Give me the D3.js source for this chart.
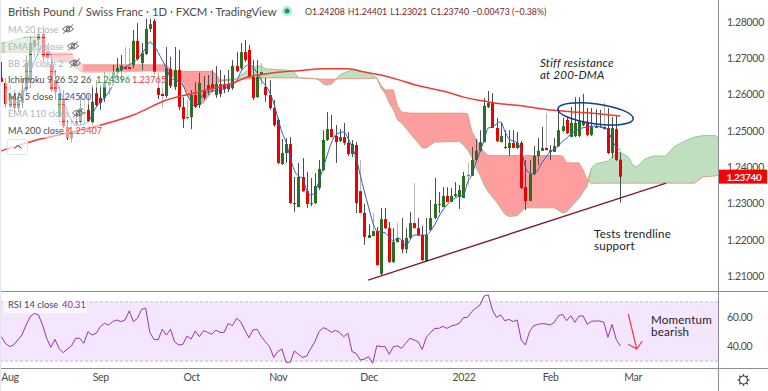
<!DOCTYPE html>
<html>
<head>
<meta charset="utf-8">
<script src="https://cdn.jsdelivr.net/npm/d3@7"></script>
<style>
  html, body { margin: 0; padding: 0; background: #fff; }
  svg { display: block; font-family: Lato, "Noto Sans", sans-serif; }
</style>
</head>
<body>
<div id="chart"></div>
<script>
// GBP/CHF daily. Index 0 is the first bar on the left, 150 the last one.
const opens = [
  1.2646,1.2632,1.2566,1.2596,1.2563,1.2577,1.2613,1.2640,1.2731,1.2750,
  1.2767,1.2717,1.2682,1.2640,1.2538,1.2591,1.2511,1.2480,1.2519,1.2525,
  1.2547,1.2558,1.2522,1.2604,1.2591,1.2591,1.2626,1.2646,1.2662,1.2668,
  1.2676,1.2676,1.2682,1.2748,1.2687,1.2712,1.2781,1.2803,1.2618,1.2602,
  1.2596,1.2671,1.2621,1.2668,1.2566,1.2536,1.2538,1.2599,1.2571,1.2610,
  1.2626,1.2629,1.2599,1.2629,1.2629,1.2629,1.2618,1.2679,1.2673,1.2717,
  1.2723,1.2649,1.2593,1.2657,1.2621,1.2599,1.2563,1.2530,1.2409,1.2439,
  1.2464,1.2301,1.2290,1.2373,1.2334,1.2299,1.2301,1.2343,1.2392,1.2475,
  1.2505,1.2486,1.2472,1.2483,1.2467,1.2436,1.2461,1.2334,1.2274,1.2205,
  1.2210,1.2224,1.2106,1.2257,1.2232,1.2139,1.2194,1.2199,1.2174,1.2205,
  1.2246,1.2232,1.2213,1.2141,1.2227,1.2260,1.2296,1.2290,1.2321,1.2304,
  1.2321,1.2318,1.2315,1.2376,1.2376,1.2420,1.2445,1.2469,1.2566,1.2577,
  1.2508,1.2469,1.2456,1.2453,1.2467,1.2453,1.2467,1.2345,1.2307,1.2381,
  1.2431,1.2445,1.2453,1.2442,1.2442,1.2458,1.2500,1.2530,1.2483,1.2486,
  1.2486,1.2516,1.2525,1.2489,1.2508,1.2511,1.2511,1.2508,1.2439,1.2505,
  1.24208
];
const highs = [
  1.2690,1.2646,1.2626,1.2613,1.2607,1.2646,1.2709,1.2759,1.2772,1.2786,
  1.2783,1.2737,1.2709,1.2668,1.2626,1.2613,1.2530,1.2530,1.2552,1.2599,
  1.2585,1.2599,1.2626,1.2640,1.2626,1.2662,1.2660,1.2682,1.2701,1.2709,
  1.2731,1.2728,1.2778,1.2797,1.2742,1.2811,1.2819,1.2811,1.2660,1.2649,
  1.2731,1.2704,1.2731,1.2723,1.2593,1.2585,1.2613,1.2635,1.2660,1.2651,
  1.2654,1.2668,1.2679,1.2668,1.2654,1.2668,1.2695,1.2717,1.2742,1.2750,
  1.2737,1.2695,1.2695,1.2687,1.2646,1.2640,1.2585,1.2536,1.2478,1.2480,
  1.2483,1.2373,1.2412,1.2425,1.2387,1.2370,1.2384,1.2420,1.2502,1.2552,
  1.2544,1.2516,1.2505,1.2522,1.2497,1.2475,1.2469,1.2420,1.2299,1.2243,
  1.2274,1.2235,1.2288,1.2288,1.2249,1.2232,1.2246,1.2260,1.2232,1.2277,
  1.2356,1.2260,1.2238,1.2260,1.2310,1.2370,1.2332,1.2345,1.2345,1.2343,
  1.2359,1.2351,1.2387,1.2412,1.2456,1.2478,1.2502,1.2591,1.2610,1.2604,
  1.2536,1.2522,1.2502,1.2502,1.2502,1.2497,1.2472,1.2420,1.2420,1.2458,
  1.2480,1.2511,1.2549,1.2461,1.2480,1.2563,1.2536,1.2536,1.2566,1.2593,
  1.2593,1.2602,1.2563,1.2563,1.2560,1.2558,1.2577,1.2563,1.2538,1.2544,
  1.24401
];
const lows = [
  1.2635,1.2563,1.2558,1.2552,1.2552,1.2563,1.2607,1.2618,1.2701,1.2737,
  1.2690,1.2673,1.2607,1.2585,1.2516,1.2508,1.2475,1.2467,1.2513,1.2516,
  1.2519,1.2525,1.2516,1.2566,1.2558,1.2580,1.2599,1.2626,1.2640,1.2635,
  1.2654,1.2662,1.2673,1.2695,1.2668,1.2709,1.2772,1.2654,1.2588,1.2563,
  1.2591,1.2618,1.2613,1.2558,1.2508,1.2530,1.2505,1.2563,1.2563,1.2585,
  1.2599,1.2607,1.2591,1.2593,1.2604,1.2607,1.2613,1.2662,1.2668,1.2690,
  1.2646,1.2585,1.2591,1.2626,1.2580,1.2558,1.2511,1.2409,1.2406,1.2412,
  1.2299,1.2277,1.2290,1.2332,1.2288,1.2293,1.2299,1.2337,1.2390,1.2472,
  1.2483,1.2412,1.2469,1.2461,1.2431,1.2428,1.2274,1.2274,1.2186,1.2205,
  1.2210,1.2130,1.2103,1.2230,1.2136,1.2136,1.2191,1.2163,1.2163,1.2202,
  1.2232,1.2210,1.2141,1.2139,1.2224,1.2257,1.2274,1.2290,1.2304,1.2304,
  1.2318,1.2285,1.2315,1.2351,1.2376,1.2417,1.2442,1.2469,1.2563,1.2508,
  1.2469,1.2469,1.2450,1.2431,1.2453,1.2450,1.2340,1.2282,1.2307,1.2378,
  1.2406,1.2445,1.2447,1.2420,1.2442,1.2456,1.2497,1.2491,1.2483,1.2483,
  1.2483,1.2513,1.2486,1.2486,1.2508,1.2508,1.2502,1.2436,1.2425,1.2417,
  1.23021
];
const closes = [
  1.2635,1.2574,1.2596,1.2563,1.2585,1.2613,1.2687,1.2742,1.2750,1.2767,
  1.2704,1.2701,1.2615,1.2607,1.2599,1.2513,1.2480,1.2497,1.2525,1.2563,
  1.2552,1.2527,1.2580,1.2571,1.2577,1.2632,1.2635,1.2662,1.2673,1.2679,
  1.2671,1.2671,1.2748,1.2698,1.2715,1.2781,1.2794,1.2662,1.2599,1.2596,
  1.2673,1.2624,1.2668,1.2566,1.2533,1.2538,1.2599,1.2566,1.2632,1.2591,
  1.2613,1.2618,1.2629,1.2602,1.2615,1.2615,1.2679,1.2665,1.2717,1.2695,
  1.2649,1.2591,1.2649,1.2662,1.2599,1.2563,1.2516,1.2412,1.2439,1.2464,
  1.2301,1.2299,1.2373,1.2334,1.2299,1.2301,1.2348,1.2395,1.2475,1.2505,
  1.2483,1.2469,1.2483,1.2467,1.2436,1.2464,1.2301,1.2274,1.2208,1.2213,
  1.2224,1.2130,1.2257,1.2232,1.2139,1.2194,1.2205,1.2174,1.2205,1.2246,
  1.2232,1.2213,1.2144,1.2213,1.2260,1.2299,1.2299,1.2321,1.2304,1.2321,
  1.2326,1.2337,1.2376,1.2378,1.2420,1.2445,1.2469,1.2569,1.2577,1.2508,
  1.2472,1.2486,1.2453,1.2467,1.2453,1.2467,1.2343,1.2307,1.2381,1.2431,
  1.2445,1.2453,1.2447,1.2447,1.2458,1.2502,1.2513,1.2494,1.2522,1.2522,
  1.2527,1.2525,1.2489,1.2511,1.2513,1.2513,1.2505,1.2439,1.2508,1.2420,
  1.23740
];

const ma5Bars = [
  2,3,4,5,6,7,8,9,10,11,12,13,14,15,16,17,18,19,21,23,25,27,28,29,31,33,35,36,37,39,40,41,42,44,45,46,47,48,49,50,
  53,55,57,58,59,60,62,63,65,66,67,68,69,70,71,72,73,74,75,76,77,78,79,80,81,83,84,85,86,87,88,89,90,91,93,95,96,97,98,99,
  100,102,103,104,105,106,107,108,109,111,112,113,114,115,116,117,118,119,120,121,122,123,125,126,127,128,129,130,131,132,
  133,134,135,136,137,138,140,142,144,146,147,148,149,150
];
const ma5Values = [
  1.2593,1.2585,1.2577,1.2591,1.2626,1.2660,1.2690,1.2715,1.2737,1.2731,1.2709,1.2654,1.2618,1.2585,1.2552,1.2530,1.2516,1.2516,1.2525,1.2566,
  1.2591,1.2626,1.2654,1.2668,1.2682,1.2698,1.2728,1.2745,1.2734,1.2695,1.2673,1.2646,1.2640,1.2626,1.2599,1.2580,1.2566,1.2582,1.2602,1.2607,
  1.2613,1.2621,1.2637,1.2662,1.2676,1.2682,1.2660,1.2640,1.2607,1.2577,1.2536,1.2497,1.2469,1.2428,1.2392,1.2376,1.2370,1.2337,1.2323,1.2332,
  1.2362,1.2398,1.2434,1.2467,1.2489,1.2497,1.2480,1.2456,1.2425,1.2378,1.2332,1.2290,1.2249,1.2224,1.2219,1.2197,1.2205,1.2199,1.2183,1.2199,
  1.2213,1.2213,1.2213,1.2224,1.2241,1.2263,1.2282,1.2296,1.2307,1.2321,1.2323,1.2359,1.2378,1.2412,1.2442,1.2475,1.2508,1.2511,1.2519,1.2525,
  1.2500,1.2478,1.2467,1.2447,1.2401,1.2384,1.2381,1.2392,1.2412,1.2428,1.2442,1.2450,1.2458,1.2472,1.2480,1.2491,1.2505,1.2511,1.2513,1.2508,
  1.2502,1.2475,1.2456,1.2447
];

const ma200Bars = [0,8,16,24,32,40,48,56,60,66,72,78,84,88,92,96,100,104,108,112,116,120,126,132,138,144,150];
const ma200Values = [
  1.2445,1.2473,1.2494,1.2516,1.2544,1.2585,1.2608,1.2632,1.2649,1.2660,1.2666,1.2671,1.2671,1.2662,
  1.2654,1.2642,1.2628,1.2617,1.2607,1.2593,1.2584,1.2576,1.2569,1.2559,1.2553,1.2548,1.2541
];

// Ichimoku cloud edges, same bars for both spans. Runs 24 bars past the last candle.
const cloudBars = [
  0,3,7,10,11,12,13,17,18,20,28,36,40,41,42,44,45,46,47,49,51,52,53,56,57,58,60,62,63,64,69,71,72,76,77,78,79,80,81,82,
  83,85,87,89,91,92,93,94,95,96,97,99,101,102,103,104,105,111,112,113,114,115,116,117,118,120,122,123,125,127,134,136,137,
  140,141,142,143,144,147,149,150,152,153,154,156,158,161,163,165,168,170,173,174
];
const spanA = [
  1.2742,1.2750,1.2761,1.2759,1.2723,1.2701,1.2690,1.2690,1.2673,1.2660,1.2662,1.2665,1.2662,1.2654,1.2646,1.2626,1.2607,1.2585,1.2569,1.2577,
  1.2607,1.2626,1.2637,1.2640,1.2643,1.2654,1.2668,1.2679,1.2679,1.2671,1.2668,1.2662,1.2646,1.2644,1.2640,1.2629,1.2626,1.2629,1.2640,1.2654,
  1.2660,1.2668,1.2665,1.2660,1.2646,1.2618,1.2604,1.2577,1.2558,1.2530,1.2522,1.2494,1.2467,1.2453,1.2453,1.2461,1.2469,1.2471,1.2461,1.2447,
  1.2428,1.2401,1.2378,1.2351,1.2332,1.2304,1.2271,1.2264,1.2266,1.2288,1.2288,1.2274,1.2277,
  1.2315,1.2332,1.2348,1.2398,1.2409,1.2417,1.2439,1.2442,1.2428,1.2406,1.2401,1.2423,1.2431,1.2431,1.2456,1.2469,1.2483,1.2487,1.2487,1.2480
];
const spanB = [
  1.2717,1.2717,1.2717,1.2717,1.2717,1.2715,1.2715,1.2715,1.2687,1.2682,1.2682,1.2682,1.2682,1.2668,1.2664,1.2664,1.2664,1.2664,1.2664,1.2664,
  1.2664,1.2657,1.2640,1.2643,1.2643,1.2643,1.2643,1.2643,1.2646,1.2646,1.2646,1.2646,1.2646,1.2644,1.2643,1.2643,1.2643,1.2643,1.2643,1.2643,
  1.2644,1.2644,1.2644,1.2644,1.2646,1.2626,1.2613,1.2613,1.2613,1.2569,1.2552,1.2549,1.2549,1.2549,1.2549,1.2549,1.2549,1.2549,1.2549,1.2547,
  1.2500,1.2478,1.2458,1.2442,1.2432,1.2432,1.2432,1.2432,1.2432,1.2432,1.2432,1.2431,1.2412,
  1.2412,1.2392,1.2365,1.2354,1.2356,1.2356,1.2356,1.2356,1.2356,1.2356,1.2356,1.2356,1.2356,1.2356,1.2356,1.2356,1.2356,1.2373,1.2376,1.2377
];

// RSI 14, one value per candle
const rsiValues = [
  46.5,42.0,39.8,40.9,44.3,47.6,54.4,60.0,62.3,61.2,54.4,45.4,39.3,44.7,38.6,35.7,38.2,40.2,45.4,45.4,
  42.0,49.9,47.6,48.8,53.3,55.5,54.4,56.7,57.8,56.7,57.8,63.9,56.7,58.9,65.0,65.7,49.2,44.7,44.3,51.5,
  47.6,51.5,43.1,40.9,41.3,47.0,44.9,50.3,46.5,50.6,49.4,48.1,51.0,49.4,49.4,55.5,53.9,58.9,56.7,51.0,
  45.8,51.0,51.5,46.5,43.1,39.8,32.5,36.4,38.2,29.2,29.2,36.8,34.6,32.5,33.4,38.6,43.1,49.9,52.6,51.5,
  49.4,50.8,49.2,46.5,48.8,36.4,35.2,30.7,31.4,33.0,28.5,40.4,39.8,39.8,34.6,39.8,40.2,38.6,42.0,45.4,
  44.3,43.1,37.9,46.1,49.2,52.1,52.1,53.5,52.1,53.7,54.4,55.5,59.4,59.6,63.4,65.7,67.9,74.0,74.7,64.5,
  59.6,61.2,57.3,58.2,56.7,57.8,44.3,40.9,49.9,53.9,54.8,55.3,55.1,54.4,56.2,60.5,61.6,57.3,60.7,56.2,
  60.5,60.5,54.8,56.9,57.1,57.1,56.2,46.1,54.8,44.7,40.2
];

const priceTicks = [1.21, 1.22, 1.23, 1.24, 1.25, 1.26, 1.27, 1.28];
const rsiTicks = [40, 60];
const timeTickBars = [2, 24, 46, 67, 89, 112, 133, 153];
const timeTickLabels = ["Aug", "Sep", "Oct", "Nov", "Dec", "2022", "Feb", "Mar"];

const trendBars = [88.9, 161.1];
const trendPrices = [1.2089, 1.2356];

const lastClose = 1.2374;
const ohlcText = ["1.24208", "1.24401", "1.23021", "1.23740"];

// layout
const width = 768;
const height = 391;
const axisX = 718;
const paneBottom = 291;
const rsiBottom = 368;

const palette = {
  up: "#2c6e1f",
  down: "#ea0000",
  wick: "#4d4d4d",
  paleWick: "#b5b5b5",
  text: "#4a4a4a",
  faded: "#b2b5be",
  frame: "#8a8d96",
  ma5: "#2a62b5",
  ma200: "#f23a30",
  cloudUp: "#c0dfbe",
  cloudDown: "#ff9e9e",
  rsi: "#9c31b5",
  rsiBand: "#f4e6fd",
  trend: "#7d1c2c",
  ellipse: "#123c8f"
};
const paleWickBars = [2, 8, 11, 14, 17, 20, 26, 30, 31, 39, 45, 63, 87, 90, 96, 100, 113, 132, 146];

const svg = d3.select("#chart").append("svg")
  .attr("width", width)
  .attr("height", height);

const x = d3.scaleLinear().domain([0, 150]).range([1.3, 620.3]);
const y = d3.scaleLinear().domain([1.21, 1.28]).range([276.1, 22]);
const yRsi = d3.scaleLinear().domain([30, 70]).range([361.1, 301.9]);

svg.append("clipPath").attr("id", "price-clip")
  .append("rect").attr("x", 0).attr("y", 0).attr("width", axisX).attr("height", paneBottom);
const plot = svg.append("g").attr("clip-path", "url(#price-clip)");

// cloud: two clipped-by-max areas so the colour flips where the spans cross
const cloud = cloudBars.map((b, i) => ({ bar: b, a: spanA[i], b: spanB[i] }));
plot.append("path").datum(cloud)
  .attr("fill", palette.cloudUp)
  .attr("d", d3.area().x(d => x(d.bar)).y0(d => y(d.b)).y1(d => y(Math.max(d.a, d.b))));
plot.append("path").datum(cloud)
  .attr("fill", palette.cloudDown)
  .attr("d", d3.area().x(d => x(d.bar)).y0(d => y(d.a)).y1(d => y(Math.max(d.a, d.b))));
plot.append("path").datum(cloud)
  .attr("fill", "none").attr("stroke", "#8dbb8a").attr("stroke-width", 0.8)
  .attr("d", d3.line().x(d => x(d.bar)).y(d => y(d.a)));
plot.append("path").datum(cloud)
  .attr("fill", "none").attr("stroke", "#e58b78").attr("stroke-width", 0.8)
  .attr("d", d3.line().x(d => x(d.bar)).y(d => y(d.b)));

// candles
const candles = plot.append("g").selectAll("g")
  .data(opens.map((o, i) => ({ bar: i, o, h: highs[i], l: lows[i], c: closes[i] })))
  .join("g");
candles.append("line")
  .attr("x1", d => Math.round(x(d.bar)) + 0.5)
  .attr("x2", d => Math.round(x(d.bar)) + 0.5)
  .attr("y1", d => y(d.h))
  .attr("y2", d => y(d.l))
  .attr("stroke", d => paleWickBars.includes(d.bar) ? palette.paleWick : palette.wick);
candles.append("rect")
  .attr("x", d => Math.round(x(d.bar)) - 1)
  .attr("width", 3)
  .attr("y", d => y(Math.max(d.o, d.c)))
  .attr("height", d => Math.max(1, Math.abs(y(d.o) - y(d.c))))
  .attr("fill", d => d.c >= d.o ? palette.up : palette.down);

// moving averages
const line = d3.line().x(d => x(d.bar)).y(d => y(d.v));
plot.append("path")
  .datum(ma5Bars.map((b, i) => ({ bar: b, v: ma5Values[i] })))
  .attr("fill", "none").attr("stroke", palette.ma5).attr("stroke-width", 1)
  .attr("d", line.curve(d3.curveMonotoneX));
plot.append("path")
  .datum(ma200Bars.map((b, i) => ({ bar: b, v: ma200Values[i] })))
  .attr("fill", "none").attr("stroke", palette.ma200).attr("stroke-width", 1.5)
  .attr("d", line.curve(d3.curveMonotoneX));

// trendline and the ellipse round the 200-DMA touches
plot.append("path")
  .datum(trendBars.map((b, i) => ({ bar: b, v: trendPrices[i] })))
  .attr("fill", "none").attr("stroke", palette.trend).attr("stroke-width", 1.4)
  .attr("d", line.curve(d3.curveLinear));
plot.append("ellipse")
  .attr("rx", 38).attr("ry", 10)
  .attr("transform", `translate(${x(144)},${y(1.2547)})rotate(7.6)`)
  .attr("fill", "none").attr("stroke", palette.ellipse).attr("stroke-width", 1.5);

// RSI pane
svg.append("rect")
  .attr("x", 0).attr("width", axisX)
  .attr("y", yRsi(70)).attr("height", yRsi(30) - yRsi(70))
  .attr("fill", palette.rsiBand);
[70, 30].forEach(level => {
  svg.append("line")
    .attr("x1", 0).attr("x2", axisX)
    .attr("y1", yRsi(level)).attr("y2", yRsi(level))
    .attr("stroke", "#c4bccb").attr("stroke-dasharray", "3,2");
});
svg.append("path")
  .datum(rsiValues)
  .attr("fill", "none").attr("stroke", palette.rsi).attr("stroke-width", 1)
  .attr("d", d3.line().x((d, i) => x(i)).y(d => yRsi(d)));

// RSI legend
svg.append("rect").attr("x", 4).attr("y", 298).attr("width", 83).attr("height", 15).attr("fill", "#fff").attr("fill-opacity", 0.7);
svg.append("text").attr("x", 8).attr("y", 307.5).attr("fill", palette.text)
  .style("font-size", "9.4px").text("RSI 14 close");
svg.append("text").attr("x", 62).attr("y", 307.5).attr("fill", "#9c27b0")
  .style("font-size", "9.4px").text("40.31");

// frame
const frame = [
  [0, paneBottom, width, paneBottom],
  [0, rsiBottom, width, rsiBottom],
  [axisX, 0, axisX, height]
];
frame.forEach(f => {
  svg.append("line")
    .attr("x1", f[0]).attr("y1", f[1] + 0.5).attr("x2", f[2]).attr("y2", f[3] + 0.5)
    .attr("transform", f[0] === f[2] ? "translate(0.5,-0.5)" : null)
    .attr("stroke", palette.frame);
});
svg.append("rect").attr("x", 0).attr("y", 0).attr("width", 1).attr("height", height).attr("fill", "#e3e6f2");

// axes
const styleAxis = g => {
  g.select(".domain").remove();
  g.selectAll("text").attr("fill", palette.text)
    .style("font-size", "10.5px")
    .style("font-family", "Lato, 'Noto Sans', sans-serif")
    .style("letter-spacing", "-0.3px");
};
svg.append("g")
  .attr("transform", `translate(${axisX + 6},0)`)
  .call(d3.axisRight(y).tickValues(priceTicks).tickSize(0).tickPadding(3).tickFormat(d3.format(".5f")))
  .call(styleAxis);
svg.append("g")
  .attr("transform", `translate(${axisX + 6},0)`)
  .call(d3.axisRight(yRsi).tickValues(rsiTicks).tickSize(0).tickPadding(3).tickFormat(d3.format(".2f")))
  .call(styleAxis);
svg.append("g")
  .attr("transform", `translate(0,${rsiBottom + 3})`)
  .call(d3.axisBottom(x).tickValues(timeTickBars).tickSize(0).tickPadding(3)
    .tickFormat((d, i) => timeTickLabels[i]))
  .call(styleAxis);

// last price tag
svg.append("rect")
  .attr("x", axisX + 1).attr("y", y(lastClose) - 7).attr("width", 48).attr("height", 14)
  .attr("fill", "#fb0000");
svg.append("text")
  .attr("x", axisX + 8.5).attr("y", y(lastClose) + 4)
  .attr("fill", "#fff").style("font-size", "10px").style("font-weight", 700).style("letter-spacing", "-0.3px")
  .text(d3.format(".5f")(lastClose));

// gear, bottom right
const gear = svg.append("g").attr("transform", "translate(743.5,380)");
gear.append("circle").attr("r", 4).attr("fill", "none").attr("stroke", "#4a4a4a").attr("stroke-width", 1.2);
d3.range(0, 360, 45).forEach(a => {
  gear.append("line").attr("x1", 0).attr("x2", 0).attr("y1", -4).attr("y2", -6)
    .attr("transform", `rotate(${a})`).attr("stroke", "#4a4a4a").attr("stroke-width", 1.3);
});

// legend, its rows sit on a see-through white strip over the candles
const legendRows = [
  { label: "MA 20 close", y: 29, faded: true, w: 78, eye: 68 },
  { label: "EMA 21 close", y: 46, faded: true, w: 82, eye: 73 },
  { label: "BB 20 close 2", y: 63, faded: true, w: 83, eye: 75 },
  { label: "Ichimoku 9 26 52 26", y: 79.5, w: 165, values: [["1.24396", "#1b8a2a", 96], ["1.23765", "#f23645", 132]] },
  { label: "MA 5 close", y: 96.5, w: 91, values: [["1.24500", "#1c52a8", 57]] },
  { label: "EMA 110 close", y: 113, faded: true, w: 86, eye: 78 },
  { label: "MA 200 close", y: 130, w: 100, values: [["1.25407", "#f23a30", 68]] }
];
const legend = svg.append("g").style("font-size", "9.2px");
legendRows.forEach(r => {
  legend.append("rect")
    .attr("x", 5).attr("y", r.y - 8).attr("width", r.w - 5).attr("height", 16)
    .attr("fill", "#fff").attr("fill-opacity", 0.55);
  legend.append("text")
    .attr("x", 8).attr("y", r.y + 3.5)
    .attr("fill", r.faded ? palette.faded : palette.text)
    .text(r.label);
  (r.values || []).forEach(v => {
    legend.append("text").attr("x", v[2]).attr("y", r.y + 3.5).attr("fill", v[1]).text(v[0]);
  });
  if (r.eye) {
    const eye = legend.append("g")
      .attr("transform", `translate(${r.eye},${r.y})`)
      .attr("fill", "none").attr("stroke", "#55585f").attr("stroke-width", 0.9);
    eye.append("path").attr("d", "M-5.5,0 Q0,-6 5.5,0 Q0,6 -5.5,0Z");
    eye.append("circle").attr("r", 1.8);
    eye.append("line").attr("x1", -5).attr("y1", 4.5).attr("x2", 5).attr("y2", -4.5);
  }
});
const collapse = svg.append("g");
collapse.append("rect")
  .attr("x", 7.5).attr("y", 139.5).attr("width", 20).attr("height", 15).attr("rx", 2)
  .attr("fill", "#fff").attr("fill-opacity", 0.75).attr("stroke", "#e3e5ec");
collapse.append("path").attr("d", "M14.5,148.5 L18,145.5 L21.5,148.5")
  .attr("fill", "none").attr("stroke", "#333").attr("stroke-width", 1);

// header
svg.append("rect").attr("x", 5).attr("y", 2).attr("width", 525).attr("height", 17).attr("fill", "#fff").attr("fill-opacity", 0.8);
svg.append("text")
  .attr("x", 8).attr("y", 15.5)
  .attr("fill", palette.text).style("font-size", "11.3px")
  .text("British Pound / Swiss Franc · 1D · FXCM · TradingView");
svg.append("circle").attr("cx", 287).attr("cy", 11).attr("r", 5).attr("fill", "#b8e6dc");
svg.append("circle").attr("cx", 287).attr("cy", 11).attr("r", 2.5).attr("fill", "#0b9a7d");

const ohlc = svg.append("text")
  .attr("x", 305).attr("y", 15)
  .attr("fill", "#7c2222").style("font-size", "8.8px");
["O", "H", "L", "C"].forEach((k, i) => {
  ohlc.append("tspan").attr("dx", i ? 3 : 0).attr("fill", palette.text).text(k);
  ohlc.append("tspan").text(ohlcText[i]);
});
ohlc.append("tspan").attr("dx", 3).text("−0.00473 (−0.38%)");

// annotations
const note = (lines, px, py, dy, style) => {
  lines.forEach((t, i) => {
    svg.append("text")
      .attr("x", px).attr("y", py + i * dy)
      .attr("fill", "#1c1c24")
      .style("font-size", "11.6px")
      .style("font-style", style || "normal")
      .style("letter-spacing", "0.2px")
      .text(t);
  });
};
note(["Stiff resistance", "at 200-DMA"], 540, 67, 12, "italic");
note(["Tests trendline", "support"], 594, 238, 12);
note(["Momentum", "bearish"], 651, 324, 12);

svg.append("path")
  .attr("d", "M628.3,314 L636.7,349 M628.3,344.3 L636.7,349 L642.3,341")
  .attr("fill", "none").attr("stroke", "#f23a45").attr("stroke-width", 1.2);
</script>
</body>
</html>
